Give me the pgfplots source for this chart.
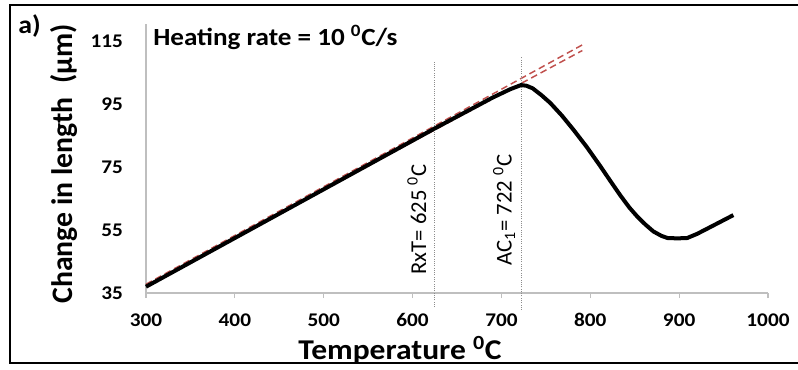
\documentclass[border=0pt]{standalone}
\usepackage{fontspec}
\setmainfont{Carlito}
\newfontfamily\lblfont{Carlito}[FakeStretch=1.1]
\usepackage{pgfplots}
\pgfplotsset{compat=1.18}
\definecolor{dashred}{RGB}{192,80,77}
\definecolor{axgray}{RGB}{191,191,191}
\definecolor{vgray}{RGB}{140,140,140}
\begin{document}
\begin{tikzpicture}
\useasboundingbox (-109.5pt,-57pt) rectangle (489pt,219.75pt);
\begin{axis}[
 scale only axis, width=466.5pt, height=201.4pt,
 xmin=300, xmax=1000, ymin=35, ymax=120.5,
 axis lines=left, axis line style={draw=axgray, line width=0.8pt, -},
 xtick={300,400,...,1000}, ytick={35,55,75,95,115},
 tick align=outside, major tick length=3.75pt,
 xtick style={draw=axgray, line width=0.8pt},
 ytick style={draw=none},
 /pgf/number format/assume math mode=true,
 /pgf/number format/set thousands separator={},
 ticklabel style={font=\lblfont\bfseries\fontsize{14.5}{16}\selectfont},
 xticklabel style={yshift=-8pt},
 yticklabel style={xshift=-10pt},
 clip=false,
]
\addplot[dashred, line width=1.1pt, dash pattern=on 5pt off 3pt] coordinates {(300,37.8) (791,114.0)};
\addplot[dashred, line width=1.1pt, dash pattern=on 5pt off 3pt] coordinates {(300,37.5) (791,112.2)};
\addplot[vgray, densely dotted, line width=0.7pt] coordinates {(625,30.5) (625,108.7)};
\addplot[vgray, densely dotted, line width=0.7pt] coordinates {(722,29.6) (722,110.2)};
\addplot[black, line width=3pt, line join=round] coordinates {
(300,37.0) (625,87.4) (690,97.2) (710,99.9) (722,101.2) (728,101.0) (735,100.2) (745,98.0) (755,95.5)
(768,91.5) (781,87.0) (796,81.5) (811,75.5) (823,70.5) (834,66.0) (844,62.2)
(853,59.3) (862,56.8) (871,54.6) (880,53.2) (887,52.5) (898,52.4) (909,52.5)
(920,53.8) (931,55.4) (946,57.6) (961,59.8)};
\node[rotate=90, font=\fontsize{17}{19}\selectfont] at (axis cs:604.8,58.4) {RxT= 625 \textsuperscript{0}C};
\node[rotate=90, font=\fontsize{17}{19}\selectfont] at (axis cs:703,61.4) {AC\textsubscript{1}= 722 \textsuperscript{0}C};
\end{axis}
\draw[black, line width=1.8pt] (500pt,216pt) -- (-102pt,216pt) -- (-102pt,-52.5pt) -- (500pt,-52.5pt);
\node[anchor=west, inner sep=0pt, font=\lblfont\bfseries\fontsize{19}{21}\selectfont] at (-96pt,200.25pt) {a)};
\node[anchor=base west, inner sep=0pt, font=\lblfont\bfseries\fontsize{18.5}{20}\selectfont] at (5.25pt,186pt) {Heating rate = 10 \textsuperscript{0}C/s};
\node[rotate=90, font=\bfseries\fontsize{22.3}{24}\selectfont] at (-61.5pt,96.75pt) {Change in length\ \ (µm)};
\node[font=\lblfont\bfseries\fontsize{21.5}{24}\selectfont] at (190.5pt,-42.75pt) {Temperature \textsuperscript{0}C};
\end{tikzpicture}
\end{document}
